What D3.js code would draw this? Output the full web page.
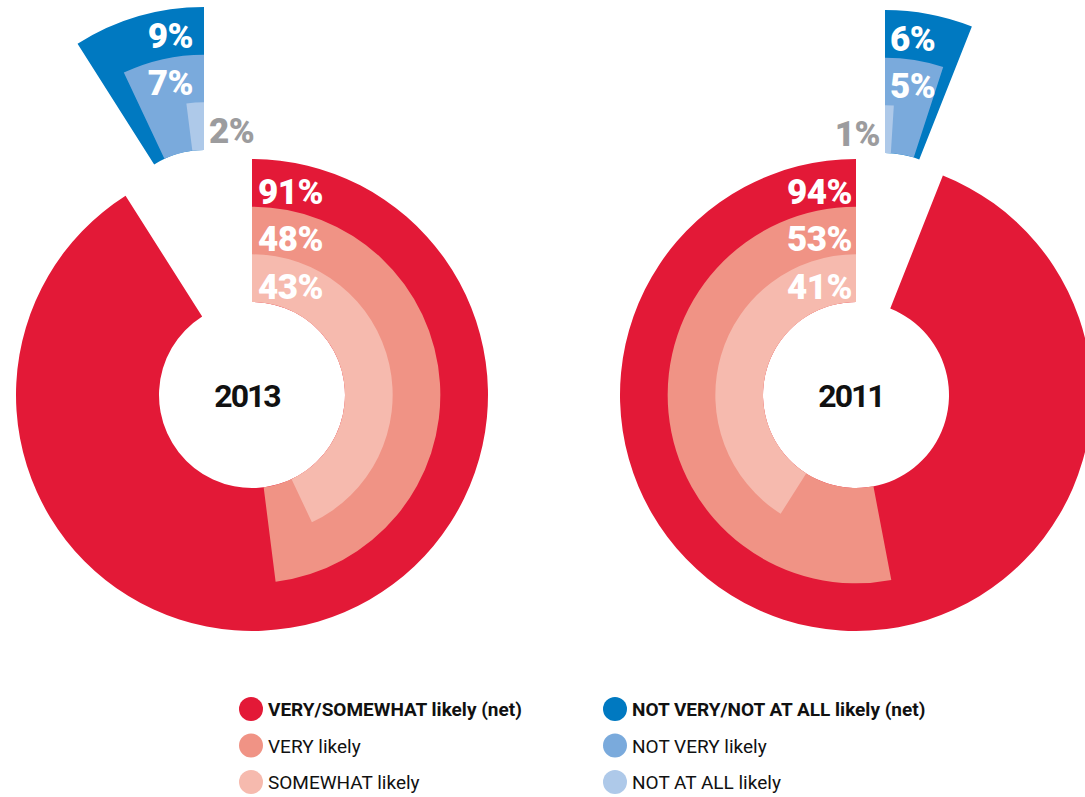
<!DOCTYPE html>
<html>
<head>
<meta charset="utf-8">
<script src="https://cdn.jsdelivr.net/npm/d3@7"></script>
<style>
    body { margin: 0; background: #fff; }
    svg { display: block; }
</style>
</head>
<body>
<div id="chart"></div>
<script>
/* Likelihood donuts: 2013 vs 2011 */

const years = ["2013", "2011"];

// red side (likely)
const likelyNet = [91, 94];
const veryLikely = [48, 53];
const somewhatLikely = [43, 41];

// blue side (not likely)
const notLikelyNet = [9, 6];
const notVeryLikely = [7, 5];
const notAtAllLikely = [2, 1];

const legendLeft = ["VERY/SOMEWHAT likely (net)", "VERY likely", "SOMEWHAT likely"];
const legendRight = ["NOT VERY/NOT AT ALL likely (net)", "NOT VERY likely", "NOT AT ALL likely"];

const config = {
    width: 1085,
    height: 797,
    centers: [[252, 395], [856, 395]],
    // red runs clockwise on the left chart, counter-clockwise on the right
    direction: [1, -1],
    // the blue wedge is pulled out of the donut
    explode: [[-48, -152], [29, -149]],
    innerRadius: 93,
    outerRadius: 236,
    redColors: ['#e31937', '#f09385', '#f6baae'],
    blueColors: ['#0079c1', '#7aaadc', '#aec9e9'],
    outsideColor: '#9c9c9e',
    outsidePad: 5,
    smallValue: 3,
    labelFont: 'Roboto, "Open Sans", sans-serif',
    textFont: 'Roboto, "Open Sans", sans-serif'
};

const svg = d3.select('#chart')
    .append('svg')
    .attr('width', config.width)
    .attr('height', config.height);

// 0..100 percent -> 0..2PI
const angle = d3.scaleLinear().domain([0, 100]).range([0, 2 * Math.PI]);
// ring index -> radius (0 = hole edge, 3 = outer edge)
const ring = d3.scaleLinear().domain([0, 3]).range([config.innerRadius, config.outerRadius]);

const arc = d3.arc();

function drawSeries(g, series, colors, dir, pad) {
    // series: [net, first, second]; net fills all rings, others fewer rings
    series.forEach(function (v, i) {
        let outer = ring(3 - i);
        let a = angle(v) * dir;
        g.append('path')
            .attr('d', arc({
                innerRadius: ring(0),
                outerRadius: outer,
                startAngle: Math.min(0, a),
                endAngle: Math.max(0, a)
            }))
            .attr('fill', colors[i]);
    });

    // labels on top of all rings
    series.forEach(function (v, i) {
        let rIn = ring(2 - i);
        let outside = v < config.smallValue;
        let side = outside ? -dir : dir;
        let x;
        if (outside) x = side * config.outsidePad;
        else x = side > 0 ? pad.start : -pad.end;
        g.append('text')
            .attr('x', x)
            .attr('y', -rIn - pad.base)
            .attr('text-anchor', side > 0 ? 'start' : 'end')
            .style('font-family', config.labelFont)
            .style('font-weight', 900)
            .style('font-size', '35px')
            .style('letter-spacing', '-0.5px')
            .style('fill', outside ? config.outsideColor : '#fff')
            .text(v + '%');
    });
}

years.forEach(function (year, k) {
    let [cx, cy] = config.centers[k];
    let dir = config.direction[k];

    let red = svg.append('g')
        .attr('class', 'likely')
        .attr('transform', 'translate(' + cx + ',' + cy + ')');
    drawSeries(red, [likelyNet[k], veryLikely[k], somewhatLikely[k]],
        config.redColors, dir, {start: 6, end: 4, base: 3});

    red.append('text')
        .attr('x', -5)
        .attr('y', 12)
        .attr('text-anchor', 'middle')
        .style('font-family', config.textFont)
        .style('font-weight', 700)
        .style('font-size', '32px')
        .style('letter-spacing', '-2px')
        .style('fill', '#111')
        .text(year);

    let [ex, ey] = config.explode[k];
    let blue = svg.append('g')
        .attr('class', 'not-likely')
        .attr('transform', 'translate(' + (cx + ex) + ',' + (cy + ey) + ')');
    drawSeries(blue, [notLikelyNet[k], notVeryLikely[k], notAtAllLikely[k]],
        config.blueColors, -dir, {start: 5, end: 11, base: 7});
});

// legend
const legendRows = d3.scaleLinear().domain([0, 2]).range([709, 782]);
const legendCols = [[251, legendLeft, config.redColors], [615, legendRight, config.blueColors]];

legendCols.forEach(function (col) {
    let [x, labels, colors] = col;
    let lg = svg.append('g').attr('class', 'legend');
    labels.forEach(function (label, i) {
        lg.append('circle')
            .attr('cx', x)
            .attr('cy', legendRows(i))
            .attr('r', 12)
            .attr('fill', colors[i]);
        lg.append('text')
            .attr('x', x + 17)
            .attr('y', legendRows(i) + 7)
            .style('font-family', config.textFont)
            .style('font-weight', i === 0 ? 700 : 400)
            .style('font-size', '19px')
            .style('fill', '#111')
            .text(label);
    });
});
</script>
</body>
</html>
